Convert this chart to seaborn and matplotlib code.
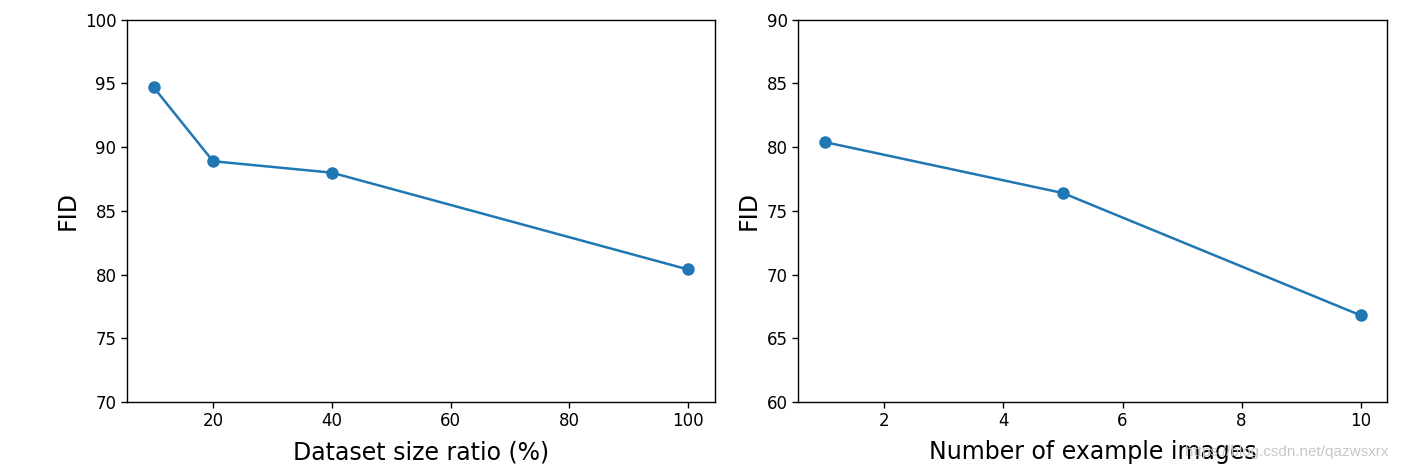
import matplotlib
matplotlib.use("Agg")
import matplotlib.pyplot as plt
import seaborn as sns

# ---- data ----
ratio_x = [10, 20, 40, 100]
ratio_fid = [94.7, 88.9, 88.0, 80.4]

examples_x = [1, 5, 10]
examples_fid = [80.4, 76.4, 66.8]

sns.set_style("ticks")
plt.rcParams['font.family'] = ['DejaVu Sans']
plt.rcParams.update({'text.color': 'black', 'axes.labelcolor': 'black',
                     'xtick.color': 'black', 'ytick.color': 'black',
                     'axes.edgecolor': 'black'})

fig = plt.figure(figsize=(14.1, 4.71), dpi=100)
ax1 = fig.add_axes([0.090, 0.1465, 0.417, 0.8115])
ax2 = fig.add_axes([0.566, 0.1465, 0.418, 0.8115])

color = '#1f77b4'

sns.lineplot(x=ratio_x, y=ratio_fid, ax=ax1, color=color, marker='o',
             markersize=9, markeredgewidth=0, linewidth=1.8)
ax1.set_ylim(70, 100)
ax1.set_xlabel('Dataset size ratio (%)', fontsize=17, labelpad=7)
ax1.set_ylabel('FID', fontsize=17)

sns.lineplot(x=examples_x, y=examples_fid, ax=ax2, color=color, marker='o',
             markersize=9, markeredgewidth=0, linewidth=1.8)
ax2.set_ylim(60, 90)
ax2.set_xticks([2, 4, 6, 8, 10])
ax2.set_xlabel('Number of example images', fontsize=17, labelpad=7)
ax2.set_ylabel('FID', fontsize=17)

for ax in (ax1, ax2):
    ax.tick_params(labelsize=12, length=4, width=1, color='black')
    for s in ax.spines.values():
        s.set_linewidth(1)
    ax.grid(False)

fig.text(0.985, 0.025, 'https://blog.csdn.net/qazwsxrx', ha='right', va='bottom',
         fontsize=11, color='#c8c8c8', family=['Liberation Sans', 'DejaVu Sans'])

fig.savefig('out.png', dpi=100, facecolor='white')
